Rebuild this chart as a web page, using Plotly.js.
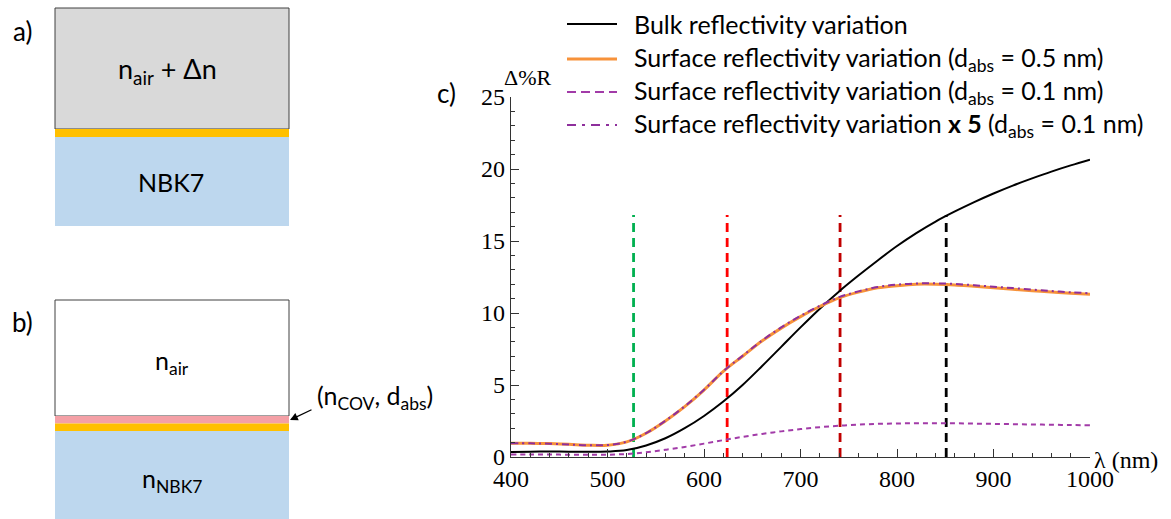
<!DOCTYPE html>
<html><head><meta charset="utf-8">
<script src="https://cdn.plot.ly/plotly-3.0.1.min.js"></script>
<style>html,body{margin:0;padding:0;background:#fff}#chart{width:1171px;height:519px}</style>
</head><body><div id="chart"></div>
<script>
// ---- data ----
const wavelength = [400,420,440,460,480,500,520,540,560,580,600,620,640,660,680,700,720,740,760,780,800,820,840,860,880,900,920,940,960,980,1000];
const bulkVariation = [0.35,0.37,0.38,0.37,0.36,0.38,0.48,0.8,1.3,2.0,2.85,3.85,5.0,6.3,7.65,9.0,10.3,11.5,12.6,13.65,14.65,15.55,16.35,17.05,17.7,18.3,18.85,19.35,19.82,20.25,20.65];
const surface05 = [0.95,0.96,0.93,0.88,0.82,0.82,1.05,1.65,2.5,3.5,4.65,5.95,7.0,8.05,8.95,9.75,10.45,11.05,11.45,11.75,11.9,12.0,12.0,11.95,11.85,11.75,11.65,11.55,11.45,11.37,11.3];
const surface01 = [0.18,0.18,0.17,0.16,0.15,0.16,0.21,0.33,0.5,0.7,0.93,1.17,1.4,1.6,1.78,1.94,2.07,2.17,2.25,2.3,2.33,2.35,2.35,2.34,2.32,2.3,2.28,2.26,2.24,2.22,2.2];
const surface01x5 = [0.95,0.95,0.92,0.87,0.82,0.83,1.06,1.66,2.52,3.52,4.67,5.95,7.03,8.08,9.0,9.8,10.5,11.1,11.5,11.8,11.97,12.05,12.06,12.02,11.93,11.83,11.73,11.63,11.53,11.44,11.37];
const markerWavelengths = [527,624,741,851];
const markerTop = [16.8,16.8,16.8,16.8];
const seriesNames = [
  'Bulk reflectivity variation',
  'Surface reflectivity variation (d<sub>abs</sub> = 0.5 nm)',
  'Surface reflectivity variation (d<sub>abs</sub> = 0.1 nm)',
  'Surface reflectivity variation <b>x 5</b> (d<sub>abs</sub> = 0.1 nm)'
];
const xTicks = [400,500,600,700,800,900,1000];
const yTicks = [0,5,10,15,20,25];

// ---- styles ----
const markerColors = ['#00b050','#ff0000','#c00000','#000000'];
const seriesLines = [
  {color:'#000000',width:2,dash:'solid'},
  {color:'#f7923a',width:3,dash:'solid'},
  {color:'#a23ba8',width:2,dash:'5px,4px'},
  {color:'#8e2f9c',width:2,dash:'7px,4px,2px,4px'}
];
const legendSampleDash = ['solid','solid','9px,5px','9px,6px,3px,6px'];
const W=1171,H=519,L=511,R=81,T=97,B=62;
const pw=W-L-R, ph=H-T-B;
const fx=p=>(p-L)/pw, fy=p=>(H-B-p)/ph;
const sans='Lato, "Noto Sans", sans-serif';
const serif='"Liberation Serif", "DejaVu Serif", serif';

const traces=[];
markerWavelengths.forEach((w,i)=>{
  traces.push({x:[w,w],y:[0,markerTop[i]],mode:'lines',showlegend:false,hoverinfo:'skip',
    line:{color:markerColors[i],width:2.8,dash:'9px,6px'}});
});
[bulkVariation,surface05,surface01,surface01x5].forEach((ys,i)=>{
  traces.push({x:wavelength,y:ys,mode:'lines',name:seriesNames[i],showlegend:false,
    line:Object.assign({shape:'spline'},seriesLines[i])});
});

const rect=(x0,y0,x1,y1,fill,line)=>({type:'rect',xref:'paper',yref:'paper',x0:fx(x0),x1:fx(x1),y0:fy(y1),y1:fy(y0),
  fillcolor:fill,line:line?{color:'#404040',width:1}:{width:0},layer:'below'});
const shapes=[
  rect(55,8,289,129,'#d9d9d9',true),
  rect(55,129,289,137,'#ffc000',false),
  rect(55,137,289,226,'#bdd7ee',false),
  rect(55,300,289,416,'#ffffff',true),
  rect(55,416,289,423.5,'#f4a0a6',false),
  rect(55,423.5,289,431,'#ffc000',false),
  rect(55,431,289,519,'#bdd7ee',false)
];
const ann=(px,py,text,size,xa,fam)=>({xref:'paper',yref:'paper',x:fx(px),y:fy(py),text:text,showarrow:false,
  xanchor:xa||'center',yanchor:'middle',font:{family:fam||sans,size:size,color:'#000'}});
const annotations=[
  ann(22,31,'a)',26),
  ann(22,322,'b)',26),
  ann(446,93,'c)',26),
  ann(167,70,'n<sub>air</sub> + Δn',27),
  ann(171,182,'NBK7',25),
  ann(172,362,'n<sub>air</sub>',25),
  ann(172,480,'n<sub>NBK7</sub>',25),
  ann(315,397,'(n<sub>COV</sub>, d<sub>abs</sub>)',25,'left'),
  {xref:'paper',yref:'paper',x:fx(290),y:fy(420),ax:23,ay:-11,text:'',showarrow:true,arrowhead:2,arrowsize:1.2,arrowwidth:1.3,arrowcolor:'#000'},
  {xref:'x',yref:'y',x:400,y:25,xanchor:'left',yanchor:'bottom',xshift:-9,yshift:5,text:'Δ%R',showarrow:false,font:{family:serif,size:22,color:'#000'}},
  {xref:'x',yref:'y',x:1000,y:0,xanchor:'left',yanchor:'middle',xshift:2,yshift:-3,text:'λ (nm)',showarrow:false,font:{family:serif,size:24,color:'#000'}}
];
// legend (drawn manually to match the sample length and spacing)
const legendRows=[24,59,92,125];
legendRows.forEach((py,i)=>{
  shapes.push({type:'line',xref:'paper',yref:'paper',x0:fx(567),x1:fx(617),y0:fy(py),y1:fy(py),
    line:{color:seriesLines[i].color,width:i===1?3:2.2,dash:legendSampleDash[i]}});
  annotations.push(ann(632,py,seriesNames[i],25,'left'));
});

const axisCommon={showgrid:false,zeroline:false,showline:true,linecolor:'#333',linewidth:1.2,
  ticks:'inside',ticklen:8,tickwidth:1,tickcolor:'#333',tickfont:{family:serif,size:24,color:'#000'}};
const layout={
  width:W,height:H,margin:{l:L,r:R,t:T,b:B},paper_bgcolor:'#fff',plot_bgcolor:'#fff',
  xaxis:Object.assign({},axisCommon,{range:[400,1000],tickvals:xTicks,ticktext:xTicks.map(String),
    minor:{dtick:20,tick0:400,ticks:'inside',ticklen:4,tickcolor:'#333'}}),
  yaxis:Object.assign({},axisCommon,{range:[0,25],tickvals:yTicks,ticktext:yTicks.map(String),
    minor:{dtick:1,tick0:0,ticks:'inside',ticklen:4,tickcolor:'#333'}}),
  showlegend:false,
  shapes:shapes,annotations:annotations
};
Plotly.newPlot('chart',traces,layout,{displayModeBar:false,staticPlot:true});
</script></body></html>
